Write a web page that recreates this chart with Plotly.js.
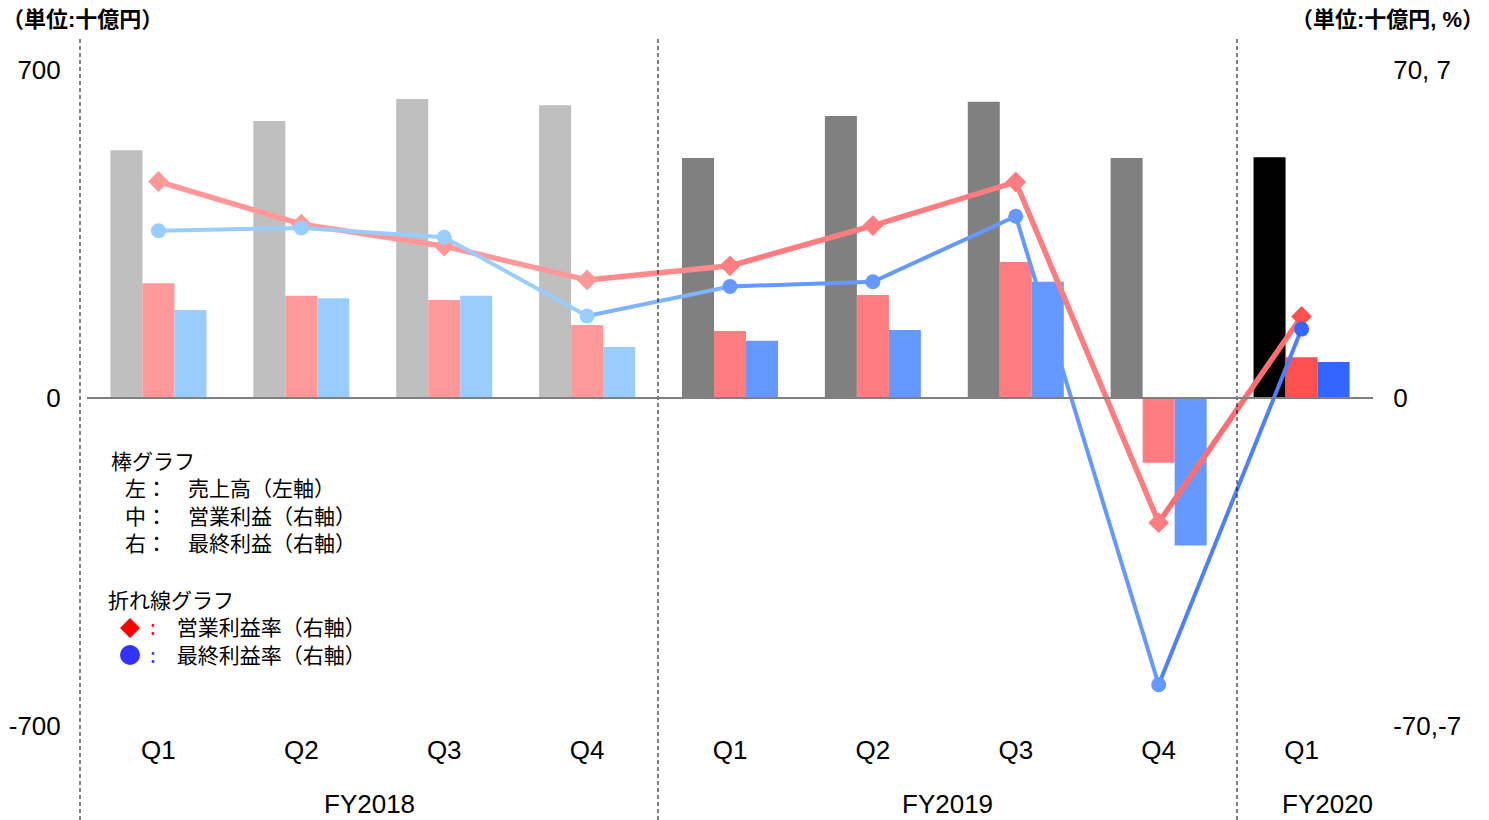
<!DOCTYPE html>
<html>
<head>
<meta charset="utf-8">
<script src="https://cdn.plot.ly/plotly-3.0.1.min.js"></script>
<style>
html, body { margin: 0; padding: 0; background: #ffffff; }
#chart { width: 1489px; height: 820px; }
</style>
</head>
<body>
<div id="chart"></div>
<script>
// ---------------- DATA ----------------
const fiscalYears = ['FY2018', 'FY2019', 'FY2020'];
const quarters = ['Q1', 'Q2', 'Q3', 'Q4', 'Q1', 'Q2', 'Q3', 'Q4', 'Q1'];
const periodYear = ['FY2018', 'FY2018', 'FY2018', 'FY2018', 'FY2019', 'FY2019', 'FY2019', 'FY2019', 'FY2020'];
const sales = [529, 591, 638, 625, 512, 602, 632, 512, 514];                      // 売上高 (左軸, 十億円)
const operatingProfit = [24.5, 21.8, 20.9, 15.6, 14.3, 22.0, 29.0, -13.8, 8.7];  // 営業利益 (右軸)
const netProfit = [18.8, 21.3, 21.8, 10.9, 12.2, 14.5, 24.8, -31.5, 7.7];        // 最終利益 (右軸)
const operatingMargin = [4.62, 3.71, 3.24, 2.52, 2.82, 3.68, 4.61, -2.66, 1.74];  // 営業利益率 (%)
const netMargin = [3.57, 3.63, 3.43, 1.75, 2.38, 2.48, 3.88, -6.12, 1.47];        // 最終利益率 (%)
const leftTickVals = [-700, 0, 700];
const leftTickText = ['-700', '0', '700'];
const rightTickVals = [-70, 0, 70];
const rightTickText = ['-70,-7', '0', '70, 7'];
const leftTitle = '（単位:十億円）';
const rightTitle = '（単位:十億円, %）';
const barLegendTitle = '棒グラフ';
const barLegendRows = ['左：　売上高（左軸）', '中：　営業利益（右軸）', '右：　最終利益（右軸）'];
const lineLegendTitle = '折れ線グラフ';
const lineLegendRows = ['営業利益率（右軸）', '最終利益率（右軸）'];

// ---------------- STYLE ----------------
const salesPalette = { FY2018: '#BFBFBF', FY2019: '#808080', FY2020: '#000000' };
const opPalette = { FY2018: '#FF9999', FY2019: '#FF7C80', FY2020: '#FF5050' };
const netPalette = { FY2018: '#99CCFF', FY2019: '#6699FF', FY2020: '#3366FF' };
const opConnector = { FY2019: '#FF8A8C', FY2020: '#FF6E72' };   // segment leading into the year
const netConnector = { FY2019: '#80B3FF', FY2020: '#4D80FF' };
const LATIN = 'Liberation Sans, Arial, Noto Sans CJK JP, sans-serif';
const CJK = 'Noto Sans CJK JP, Liberation Sans, sans-serif';

const W = 1489, H = 820;
const M = { l: 87, r: 116, t: 70, b: 94 };
const plotW = W - M.l - M.r;
const plotH = H - M.t - M.b;
const px = x => (x - M.l) / plotW;
const py = y => (M.t + plotH - y) / plotH;
const dividersPx = [80, 658, 1237, 1417];

// ---------------- TRACES ----------------
const xIdx = quarters.map((_, i) => i);
const colorBy = pal => periodYear.map(fy => pal[fy]);
const BAR_W = 0.224;

const traces = [];
traces.push({ type: 'bar', x: xIdx, y: sales, yaxis: 'y', width: BAR_W, offset: -1.5 * BAR_W,
  marker: { color: colorBy(salesPalette), line: { width: 0 } }, hoverinfo: 'skip' });
traces.push({ type: 'bar', x: xIdx, y: operatingProfit, yaxis: 'y2', width: BAR_W, offset: -0.5 * BAR_W,
  marker: { color: colorBy(opPalette), line: { width: 0 } }, hoverinfo: 'skip' });
traces.push({ type: 'bar', x: xIdx, y: netProfit, yaxis: 'y2', width: BAR_W, offset: 0.5 * BAR_W,
  marker: { color: colorBy(netPalette), line: { width: 0 } }, hoverinfo: 'skip' });

function lineSegments(values, palette, connector, width) {
  const out = [];
  fiscalYears.forEach(fy => {
    const idx = xIdx.filter(i => periodYear[i] === fy);
    if (idx[0] > 0) {
      const pair = [idx[0] - 1, idx[0]];
      out.push({ type: 'scatter', mode: 'lines', x: pair, y: pair.map(i => values[i]), yaxis: 'y3',
        line: { color: connector[fy], width: width }, hoverinfo: 'skip' });
    }
    if (idx.length > 1) {
      out.push({ type: 'scatter', mode: 'lines', x: idx, y: idx.map(i => values[i]), yaxis: 'y3',
        line: { color: palette[fy], width: width }, hoverinfo: 'skip' });
    }
  });
  return out;
}
lineSegments(operatingMargin, opPalette, opConnector, 5.5).forEach(t => traces.push(t));
lineSegments(netMargin, netPalette, netConnector, 4).forEach(t => traces.push(t));
traces.push({ type: 'scatter', mode: 'markers', x: xIdx, y: operatingMargin, yaxis: 'y3',
  marker: { symbol: 'diamond', size: 16, color: colorBy(opPalette), line: { width: 0 } }, hoverinfo: 'skip' });
traces.push({ type: 'scatter', mode: 'markers', x: xIdx, y: netMargin, yaxis: 'y3',
  marker: { symbol: 'circle', size: 15, color: colorBy(netPalette), line: { width: 0 } }, hoverinfo: 'skip' });

// ---------------- ANNOTATIONS / SHAPES ----------------
const annotations = [];
const txt = (text, x, y, opts) => Object.assign({ text: text, xref: 'paper', yref: 'paper', x: px(x), y: py(y),
  xanchor: 'left', yanchor: 'middle', align: 'left', showarrow: false,
  font: { family: CJK, size: 21, color: '#000' } }, opts || {});

annotations.push(txt(leftTitle, 0, 19, { font: { family: LATIN, size: 22, color: '#000', weight: 'bold' } }));
annotations.push(txt(rightTitle, 1486, 19, { xanchor: 'right', font: { family: LATIN, size: 22, color: '#000', weight: 'bold' } }));

// FY group labels centred between the dividers
fiscalYears.forEach((fy, k) => {
  annotations.push(txt(fy, (dividersPx[k] + dividersPx[k + 1]) / 2, 804,
    { xanchor: 'center', font: { family: LATIN, size: 26, color: '#000' } }));
});

// Explanatory legend (bar block)
const barIndent = '\u2002\u2006';
annotations.push(txt([barLegendTitle].concat(barLegendRows.map(r => barIndent + r)).join('<br>'),
  109, 443, { yanchor: 'top' }));

// Explanatory legend (line block)
const symbolColors = ['#FF0000', '#3333FF'];
const lineText = [lineLegendTitle].concat(lineLegendRows.map((r, k) =>
  '\u2003\u2003<span style="color:' + symbolColors[k] + '">:</span>\u2003' + r)).join('<br>');
annotations.push(txt(lineText, 106, 582, { yanchor: 'top' }));

const shapes = [];
dividersPx.slice(0, 3).forEach(d => {
  shapes.push({ type: 'line', xref: 'paper', yref: 'paper', x0: px(d), x1: px(d), y0: py(820), y1: py(38),
    line: { color: '#000000', width: 1, dash: '4px,3px' }, layer: 'above' });
});
shapes.push({ type: 'line', xref: 'paper', yref: 'y', x0: 0, x1: 1, y0: 0, y1: 0,
  line: { color: '#808080', width: 2 }, layer: 'above' });
// legend symbols
shapes.push({ type: 'path', xref: 'paper', yref: 'paper', xsizemode: 'pixel', ysizemode: 'pixel',
  xanchor: px(130), yanchor: py(628), path: 'M -10 0 L 0 10 L 10 0 L 0 -10 Z',
  fillcolor: symbolColors[0], line: { width: 0 }, layer: 'above' });
shapes.push({ type: 'circle', xref: 'paper', yref: 'paper', xsizemode: 'pixel', ysizemode: 'pixel',
  xanchor: px(130), yanchor: py(655), x0: -10, x1: 10, y0: -10, y1: 10,
  fillcolor: symbolColors[1], line: { width: 0 }, layer: 'above' });

// ---------------- LAYOUT ----------------
const axisFont = { family: LATIN, size: 26, color: '#000' };
const layout = {
  width: W, height: H,
  margin: M,
  paper_bgcolor: '#ffffff', plot_bgcolor: '#ffffff',
  showlegend: false,
  barmode: 'overlay',
  font: { family: LATIN, color: '#000' },
  xaxis: { range: [-0.5, 8.5], tickmode: 'array', tickvals: xIdx, ticktext: quarters,
    showgrid: false, zeroline: false, showline: false, ticks: 'outside', ticklen: 1,
    tickcolor: 'rgba(0,0,0,0)', tickfont: axisFont, fixedrange: true },
  yaxis: { range: [-700, 700], tickmode: 'array', tickvals: leftTickVals, ticktext: leftTickText,
    showgrid: false, zeroline: false, showline: false, ticks: 'outside', ticklen: 20,
    tickcolor: 'rgba(0,0,0,0)', tickfont: axisFont, fixedrange: true },
  yaxis2: { overlaying: 'y', side: 'right', range: [-70, 70], tickmode: 'array', tickvals: rightTickVals,
    ticktext: rightTickText, showgrid: false, zeroline: false, showline: false, ticks: 'outside', ticklen: 14,
    tickcolor: 'rgba(0,0,0,0)', tickfont: axisFont, fixedrange: true },
  yaxis3: { overlaying: 'y', range: [-7, 7], visible: false, fixedrange: true },
  annotations: annotations,
  shapes: shapes
};

Plotly.newPlot('chart', traces, layout, { displayModeBar: false, staticPlot: true });
</script>
</body>
</html>
